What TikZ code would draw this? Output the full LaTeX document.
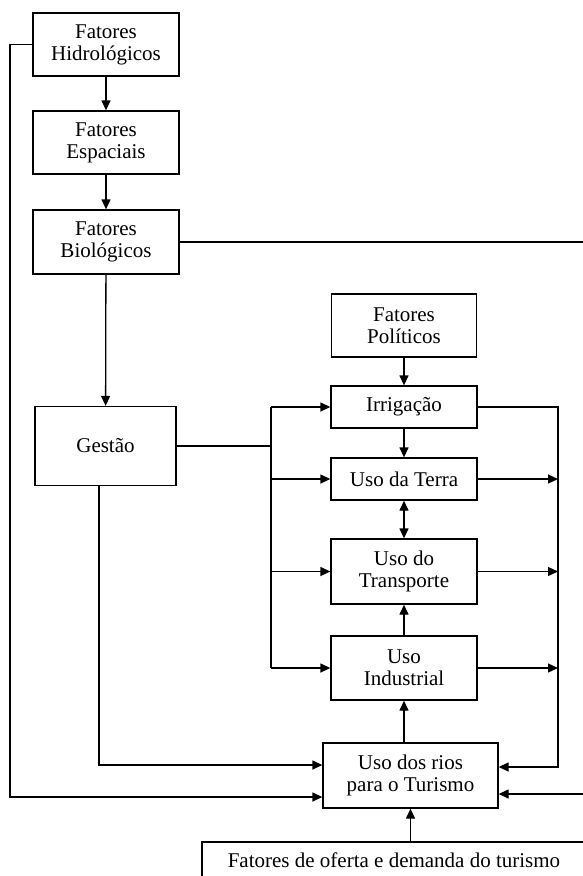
\documentclass[tikz,border=0pt]{standalone}
\usepackage{fontspec}
\setmainfont{Liberation Serif}
\usetikzlibrary{arrows.meta}
\tikzset{
  box/.style={draw,line width=1.3pt,align=center,inner sep=0pt,font=\fontsize{21}{22}\selectfont},
  ln/.style={line width=1.3pt},
  ar/.style={ln,-{Triangle[length=10pt,width=9pt]}},
  dar/.style={ln,{Triangle[length=10pt,width=9pt]}-{Triangle[length=10pt,width=9pt]}},
}

\begin{document}
\begin{tikzpicture}[x=1pt,y=-1pt]
  \useasboundingbox (0,0) rectangle (582,876);
  % left column
  \node[box,minimum width=146pt,minimum height=63pt] (hidro) at (106,44.5){Fatores\\Hidrológicos};
  \node[box,minimum width=146pt,minimum height=63pt] (esp) at (106,142.5){Fatores\\Espaciais};
  \node[box,minimum width=146pt,minimum height=64pt] (bio) at (106,242){Fatores\\Biológicos};
  \node[box,minimum width=141pt,minimum height=79pt] (gestao) at (105.5,446){Gestão};
  % centre column
  \node[box,minimum width=145pt,minimum height=63pt] (pol) at (404,325.5){Fatores\\Políticos};
  \node[box,minimum width=146pt,minimum height=42pt] (irr) at (404,407){Irrigação};
  \node[box,minimum width=146pt,minimum height=42pt] (terra) at (404,479){Uso da Terra};
  \node[box,minimum width=146pt,minimum height=65pt] (transp) at (404,571.5){Uso do\\Transporte};
  \node[box,minimum width=146pt,minimum height=64pt] (ind) at (404,668){Uso\\Industrial};
  \node[box,minimum width=175pt,minimum height=65pt] (tur) at (410.5,775.5){Uso dos rios\\para o Turismo};
  \node[box,minimum width=384pt,minimum height=36pt] (oferta) at (394,860){Fatores de oferta e demanda do turismo};
  % bends
  \coordinate (lfar) at (10,797);
  \coordinate (gbend) at (99,765);
  \coordinate (lbus) at (271,0);
  \coordinate (rbot) at (558,767);
  \coordinate (rfar) at (600,794);
  % arrows
  \draw[ar] (hidro) -- (esp);
  \draw[ar] (esp) -- (bio);
  \draw[ar] (bio) -- (gestao);
  \draw[ar] (pol) -- (irr);
  \draw[ar] (irr) -- (terra);
  \draw[dar] (terra) -- (transp);
  \draw[ar] (ind) -- (transp);
  \draw[ar] (tur.north -| ind) -- (ind.south);
  \draw[ar] (tur.south |- oferta.north) -- (tur.south);
  \draw[ar] (hidro.west) -| (lfar) -- (lfar -| tur.west);
  \draw[ar] (gestao.south -| gbend) -- (gbend) -- (gbend -| tur.west);
  \draw[ar] (bio.east) -| (rfar) -- (rfar -| tur.east);
  \draw[ar] (irr.east) -| (rbot) -- (rbot -| tur.east);
  \draw[ln] (gestao.east) -- (lbus |- gestao.east);
  \draw[ln] (lbus |- irr.west) -- (lbus |- ind.west);
  \foreach \b in {irr,terra,transp,ind}
    \draw[ar] (lbus |- \b.west) -- (\b.west);
  \foreach \b in {terra,transp,ind}
    \draw[ar] (\b.east) -- (rbot |- \b.east);
\end{tikzpicture}
\end{document}
